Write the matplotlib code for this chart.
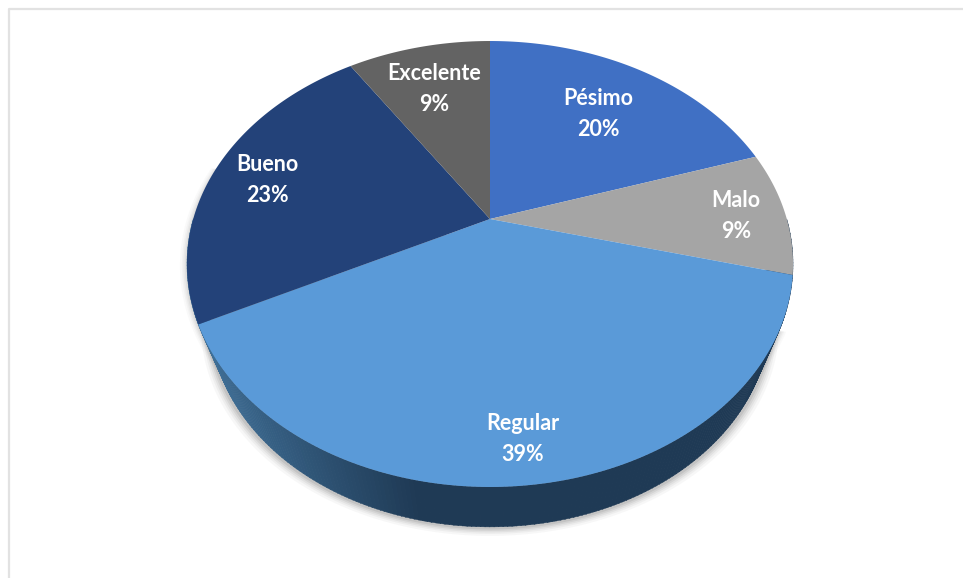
"""Perspective 3D pie chart of survey ratings."""

import matplotlib.pyplot as plt
import numpy as np

categories = ["Pésimo", "Malo", "Regular", "Bueno", "Excelente"]
# unrounded shares estimated from the slice boundaries
percentages = [20, 9, 38.6, 23.15, 9.25]
colors = ["#4070c4", "#a5a5a5", "#5a9ad8", "#234279", "#636363"]

# where the labels sit, in picture pixels
label_xy = [(598, 114), (736, 216), (523, 439), (267, 180), (434, 89)]

CENTER_X, CENTER_Y = 490, 219
TILT = 0.2018
SCALE_X, SCALE_Y = 296.8, 213.9
RIM_DROP = 56
RIM_SX, RIM_SY = 0.924, 0.94


def project(theta, sx=1.0, sy=1.0, drop=0.0):
    """Map clockwise-from-top angles on the unit disc to picture pixels."""
    u, v = np.sin(theta), np.cos(theta)
    den = 1 + TILT * v
    x = CENTER_X + sx * SCALE_X * u / den
    y = CENTER_Y + drop - sy * SCALE_Y * v / den
    return x, y


def side_color(x):
    """Side wall shading, lighter towards the left."""
    t = np.clip((x - 215) / 205, 0, 1)
    left = np.array([0x40, 0x70, 0x98]) / 255
    right = np.array([0x1f, 0x3a, 0x55]) / 255
    return tuple(left + (right - left) * t)


fig = plt.figure(figsize=(9.63, 5.78), dpi=100)
ax = fig.add_axes([0, 0, 1, 1])
ax.set_xlim(0, 963)
ax.set_ylim(578, 0)
ax.axis("off")

# frame of the pasted chart
ax.plot([8.5, 8.5, 963], [578, 8.5, 8.5], color="#e2e2e2", lw=1.6)

front = np.linspace(np.pi / 2, 3 * np.pi / 2, 241)
halo = np.radians(np.linspace(118, 285, 200))

# soft shadow round the base and the lower edge of the top face
for grow, alpha in [(9, 0.05), (7, 0.07), (5.5, 0.09), (4, 0.12), (2.5, 0.16)]:
    sx, sy = project(front, RIM_SX, RIM_SY, RIM_DROP)
    ax.fill(
        CENTER_X + (sx - CENTER_X) * (1 + grow / 280),
        sy + grow,
        color="#707070",
        alpha=alpha,
        lw=0,
    )
    tx, ty = project(halo)
    ax.fill(
        CENTER_X + (tx - CENTER_X) * (1 + (grow - 2) / 300),
        ty + 2,
        color="#707070",
        alpha=alpha * 0.7,
        lw=0,
    )

# side wall, only the front half shows
for a, b in zip(front[:-1], front[1:]):
    seg = np.array([a, b + 0.002])
    x1, y1 = project(seg)
    x2, y2 = project(seg[::-1], RIM_SX, RIM_SY, RIM_DROP)
    ax.fill(
        np.r_[x1, x2],
        np.r_[y1, y2],
        color=side_color(x2.mean()),
        lw=0.3,
    )

# top face
edges = np.radians(np.cumsum([0] + percentages) * 3.6)
for start, end, color in zip(edges[:-1], edges[1:], colors):
    arc = np.linspace(start, end, 200)
    x, y = project(arc)
    ax.fill(np.r_[CENTER_X, x], np.r_[CENTER_Y, y], color=color, lw=0)

for name, pct, (tx, ty) in zip(categories, percentages, label_xy):
    ax.text(
        tx,
        ty,
        f"{name}\n{round(pct)}%",
        color="white",
        ha="center",
        va="center",
        fontsize=15.5,
        family="Lato",
        weight="bold",
        linespacing=1.62,
    )

fig.savefig("out.png", dpi=100)
plt.close(fig)
